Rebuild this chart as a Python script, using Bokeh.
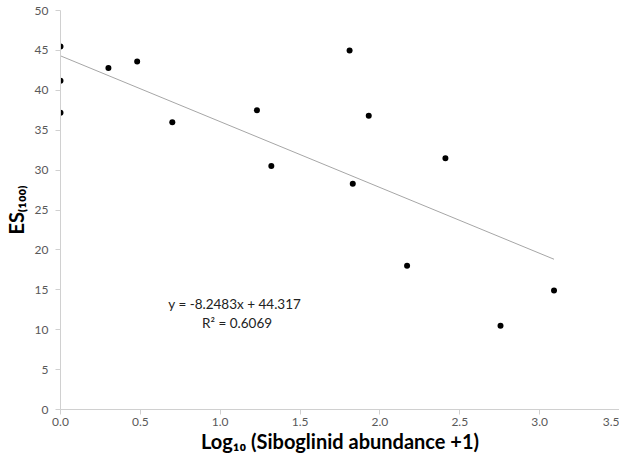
from bokeh.plotting import figure
from bokeh.models import Label, NumeralTickFormatter, FixedTicker, Range1d
from bokeh.embed import file_html
from bokeh.resources import INLINE

# ---- data ----
log_abundance = [0.0, 0.0, 0.0, 0.30, 0.48, 0.70, 1.23, 1.32, 1.81, 1.83, 1.93, 2.17, 2.41, 2.755, 3.09]
es100 = [45.5, 41.2, 37.2, 42.8, 43.6, 36.0, 37.5, 30.5, 45.0, 28.3, 36.8, 18.0, 31.5, 10.5, 14.9]
slope = -8.2483
intercept = 44.317
r_squared = 0.6069
x_ticks = [0.0, 0.5, 1.0, 1.5, 2.0, 2.5, 3.0, 3.5]
y_ticks = [0, 5, 10, 15, 20, 25, 30, 35, 40, 45, 50]
x_title = "Log\u2081\u2080 (Siboglinid abundance +1)"
y_title = "ES\u208d\u2081\u2080\u2080\u208e"

FONT = "Lato"
AXIS_COL = "#d0d0d0"
TICK_TXT = "#595959"

p = figure(width=619, height=455, output_backend="svg", toolbar_location=None,
           x_range=Range1d(x_ticks[0], x_ticks[-1]), y_range=Range1d(y_ticks[0], y_ticks[-1]),
           min_border_left=10, min_border_right=0, min_border_top=10, min_border_bottom=0)
p.outline_line_color = None
p.xgrid.grid_line_color = None
p.ygrid.grid_line_color = None
p.background_fill_color = "white"
p.border_fill_color = "white"

for ax in (p.xaxis[0], p.yaxis[0]):
    ax.axis_line_color = AXIS_COL
    ax.major_tick_line_color = AXIS_COL
    ax.minor_tick_line_color = None
    ax.major_tick_in = 0
    ax.major_tick_out = 5
    ax.major_label_text_font = FONT
    ax.major_label_text_font_size = "12px"
    ax.major_label_text_color = TICK_TXT
    ax.axis_label_text_font = FONT
    ax.axis_label_text_font_style = "bold"
    ax.axis_label_text_font_size = "20px"
    ax.axis_label_text_color = "black"

p.xaxis[0].axis_label = x_title
p.yaxis[0].axis_label = y_title
p.xaxis[0].axis_label_standoff = 0
p.yaxis[0].axis_label_standoff = 4
p.xaxis[0].ticker = FixedTicker(ticks=x_ticks)
p.yaxis[0].ticker = FixedTicker(ticks=y_ticks)
p.xaxis[0].formatter = NumeralTickFormatter(format="0.0")
p.yaxis[0].formatter = NumeralTickFormatter(format="0")
p.xaxis[0].major_label_standoff = 3
p.yaxis[0].major_label_standoff = 7

# trend line from the fitted equation
x_line = [0.0, max(log_abundance)]
y_line = [intercept + slope * v for v in x_line]
p.line(x_line, y_line, line_color="#a6a6a6", line_width=1)

p.scatter(log_abundance, es100, size=6, fill_color="black", line_color=None)

# equation text
eq1 = f"y = {slope}x + {intercept}"
eq2 = f"R\u00b2 = {r_squared}"
p.add_layout(Label(x=0.675, y=13.2, text=eq1, text_font=FONT, text_font_size="13.5px",
                   text_color="#222222", text_align="left", text_baseline="alphabetic"))
p.add_layout(Label(x=0.886, y=10.8, text=eq2, text_font=FONT, text_font_size="13.5px",
                   text_color="#222222", text_align="left", text_baseline="alphabetic"))

open("out.html", "w").write(file_html(p, INLINE))
